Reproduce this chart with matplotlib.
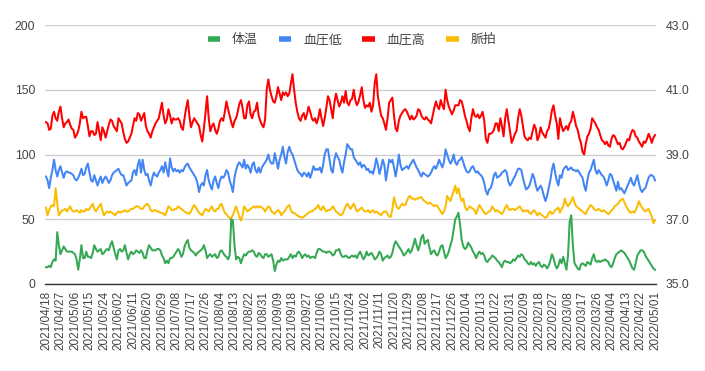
import matplotlib
matplotlib.use('Agg')
import matplotlib.pyplot as plt
import matplotlib.dates as mdates
from matplotlib.lines import Line2D
import pandas as pd

plt.rcParams['font.family'] = ['Liberation Sans', 'Noto Sans CJK JP']

start_date = '2021-04-18'
end_date = '2022-05-01'

series_names = ['体温', '血圧低', '血圧高', '脈拍']

bp_high = [
    125,124,119,120,130,133,128,126,133,137,
    128,121,124,125,127,123,120,119,113,115,
    118,124,133,128,129,129,122,114,118,118,
    115,116,125,118,111,121,118,113,118,123,
    127,126,122,120,118,128,126,124,117,112,
    109,110,113,116,122,128,126,132,
    131,126,129,132,122,118,116,113,118,121,
    124,126,128,134,140,130,124,127,135,130,
    124,128,127,127,128,126,121,119,128,136,
    142,130,121,125,128,126,124,122,115,110,
    120,132,145,128,118,122,124,119,116,120,
    126,128,126,133,141,135,130,125,121,126,
    128,133,139,142,136,128,
    128,138,141,131,128,133,134,140,130,126,
    123,121,127,150,158,150,145,141,140,145,
    152,147,142,148,146,148,145,147,155,162,
    150,140,133,128,126,130,132,127,131,137,
    133,128,126,128,124,128,135,128,122,128,
    136,145,142,135,128,140,147,142,137,140,
    145,140,149,140,138,142,
    143,150,142,138,141,146,152,142,136,138,
    137,140,133,138,155,162,145,137,130,128,
    124,119,128,140,142,144,130,120,118,126,
    130,132,134,135,133,130,127,130,127,128,
    130,135,134,130,128,127,129,127,126,124,
    130,136,141,137,135,142,138,135,150,142,
    137,134,131,134,138,
    138,138,142,141,136,130,126,121,118,128,
    135,130,129,131,128,130,133,126,112,109,
    116,116,117,119,124,124,118,128,122,114,
    128,135,126,118,109,112,116,118,128,135,
    130,122,114,112,111,113,112,118,123,120,
    111,114,121,117,115,113,118,120,126,134,
    138,130,124,112,
    128,122,118,120,122,119,124,126,133,128,
    122,119,113,109,102,100,108,114,116,120,
    128,126,124,121,119,115,111,110,108,110,
    107,106,112,115,114,111,108,109,105,104,
    106,109,112,111,116,119,118,114,113,110,
    108,106,110,109,112,116,113,109,113,115,
]

bp_low = [
    83,80,74,82,88,96,88,83,88,91,
    86,82,86,87,86,86,85,84,81,80,
    82,85,89,84,85,90,93,86,80,79,
    84,80,76,80,83,78,81,83,81,78,
    80,84,86,87,88,89,86,84,84,80,
    76,78,79,80,86,88,84,92,
    96,86,96,88,84,85,80,76,82,86,
    84,83,86,88,91,86,94,88,83,97,
    90,87,89,87,88,86,88,87,90,92,
    93,90,88,86,84,82,78,71,76,78,
    76,84,88,80,76,73,80,83,78,74,
    80,83,82,84,88,86,80,76,71,82,
    88,92,94,92,90,96,
    89,92,90,86,92,94,88,86,90,86,
    90,92,94,96,100,95,93,93,101,95,
    89,96,100,106,98,93,102,106,102,100,
    96,92,88,86,85,83,86,85,83,86,
    82,86,91,88,89,88,90,86,92,100,
    104,104,96,88,86,96,101,98,96,90,
    86,94,100,108,106,104,
    104,98,96,94,92,94,90,92,91,88,
    89,86,87,85,90,97,92,85,90,96,
    92,80,88,96,94,96,90,83,90,100,
    92,88,89,90,91,89,92,94,96,93,
    90,88,85,83,86,85,84,83,84,86,
    89,91,89,92,96,93,90,94,104,100,
    96,93,95,100,94,
    92,95,96,98,94,90,87,86,87,90,
    91,88,86,87,85,84,82,78,72,69,
    73,74,78,84,86,82,83,84,86,87,
    88,86,79,76,78,81,83,86,89,89,
    88,82,77,73,74,76,80,85,82,76,
    72,74,76,73,68,64,68,74,80,88,
    93,86,80,76,
    84,82,88,90,91,88,89,90,88,88,
    87,88,86,84,82,76,72,80,86,88,
    92,96,88,85,88,86,84,83,80,76,
    80,85,84,80,76,72,79,73,74,72,
    70,73,76,79,82,78,76,80,84,78,
    73,71,73,74,78,82,84,84,83,80,
]

pulse = [
    59,53,57,60,61,60,74,62,53,55,
    57,57,58,56,58,60,57,56,56,57,
    56,55,57,56,56,58,57,58,60,62,
    58,56,58,60,62,57,53,55,56,55,
    56,55,54,53,55,56,55,56,56,57,
    56,56,57,58,58,59,60,60,
    59,58,58,60,61,62,60,57,56,57,
    57,56,56,55,55,54,53,56,60,59,
    57,57,58,58,60,59,58,57,56,55,
    55,54,56,59,61,59,57,55,54,53,
    56,58,57,56,58,60,57,56,58,58,
    61,62,58,55,54,52,51,51,53,57,
    60,56,52,49,53,60,
    58,56,57,58,59,60,59,60,59,60,
    59,58,56,58,60,59,56,55,54,56,
    57,56,53,55,56,58,60,61,57,55,
    55,54,53,52,52,51,52,53,54,55,
    56,56,57,58,59,61,58,57,60,58,
    56,57,57,58,60,58,56,55,54,53,
    54,57,60,62,60,58,
    60,62,59,56,57,58,59,57,56,56,
    57,55,56,57,55,56,55,54,53,55,
    56,56,54,52,52,58,67,62,59,58,
    60,62,61,61,64,67,68,66,66,65,
    66,66,67,67,65,64,63,62,63,62,
    61,60,61,60,58,56,54,56,60,68,
    66,64,68,72,76,
    70,74,68,64,66,60,57,58,60,59,
    58,57,54,58,61,59,57,55,54,55,
    56,57,60,58,56,57,56,55,54,56,
    59,61,58,57,58,58,57,58,59,60,
    58,56,57,56,57,55,54,56,57,55,
    53,55,54,53,52,51,52,55,56,54,
    55,57,58,59,
    55,58,60,66,62,60,62,64,67,63,
    60,59,58,57,56,55,54,57,59,61,
    60,58,57,57,58,57,56,57,56,55,
    54,55,57,58,60,61,62,64,65,66,
    63,60,58,56,55,56,55,57,60,64,
    61,59,57,56,57,58,55,52,47,49,
]

body_temp = [
    35.52,35.52,35.56,35.52,35.68,35.76,35.72,36.60,36.20,35.92,
    36.04,36.16,36.08,36.00,36.00,36.00,36.00,35.96,35.92,35.76,
    35.44,35.76,36.20,35.80,35.80,36.00,35.84,35.84,35.80,35.96,
    36.20,36.08,36.00,36.04,36.08,35.92,35.96,36.04,36.08,36.04,
    36.20,36.32,36.12,35.92,35.76,36.04,36.08,36.00,36.04,36.20,
    35.96,35.76,35.92,36.00,35.92,35.96,36.04,36.00,
    35.96,36.04,35.96,35.80,35.80,36.04,36.20,36.12,36.04,36.04,
    36.04,36.08,36.08,36.04,35.88,35.80,35.64,35.72,35.64,35.80,
    35.80,35.84,35.92,36.00,36.08,36.00,35.84,35.92,36.16,36.28,
    36.36,36.12,36.04,36.00,35.96,35.88,35.96,36.00,36.04,36.08,
    36.20,36.04,35.80,35.88,35.92,35.84,35.88,35.92,35.80,35.84,
    36.00,36.04,35.96,35.88,35.84,35.76,35.88,37.00,36.96,36.20,
    35.76,35.84,35.80,35.64,35.80,35.92,
    35.88,35.96,36.00,36.00,36.04,36.00,35.88,35.84,35.96,35.92,
    35.84,35.80,35.92,35.92,35.84,35.88,35.92,35.72,35.40,35.60,
    35.72,35.68,35.80,35.72,35.76,35.76,35.76,35.84,35.92,35.80,
    35.88,35.84,35.96,36.00,35.92,35.80,35.88,35.92,35.84,35.88,
    35.80,35.84,35.84,35.80,35.96,36.08,36.08,36.04,36.00,36.00,
    35.96,36.00,36.00,35.96,35.88,35.92,36.04,36.04,36.08,35.92,
    35.84,35.84,35.88,35.84,35.80,35.84,
    35.88,35.84,35.88,35.80,35.92,36.00,35.88,35.76,35.84,36.00,
    35.88,35.92,35.96,35.88,35.76,35.80,35.88,36.00,35.92,35.72,
    35.80,35.84,35.88,35.80,35.84,35.96,36.20,36.32,36.24,36.16,
    36.08,36.00,35.88,35.92,36.00,36.08,35.96,36.04,36.20,36.40,
    36.20,36.04,36.20,36.44,36.52,36.24,36.32,36.36,36.12,35.92,
    36.00,36.04,35.92,35.88,36.00,36.16,36.20,36.00,35.80,35.88,
    36.00,36.20,36.36,36.68,37.00,
    37.08,37.20,36.84,36.36,36.16,36.08,36.12,36.28,36.20,36.12,
    36.00,35.92,35.80,35.92,36.00,35.92,35.96,35.88,35.72,35.68,
    35.76,35.80,35.88,35.84,35.80,35.72,35.68,35.60,35.52,35.68,
    35.72,35.68,35.68,35.64,35.68,35.76,35.72,35.80,35.88,35.84,
    35.92,35.88,35.76,35.72,35.64,35.60,35.68,35.60,35.64,35.56,
    35.64,35.68,35.56,35.52,35.60,35.56,35.48,35.56,35.72,35.92,
    35.80,35.60,35.48,35.56,
    35.76,35.64,35.84,35.64,35.44,35.88,36.92,37.12,36.20,35.64,
    35.56,35.48,35.44,35.60,35.64,35.60,35.56,35.68,35.64,35.60,
    35.80,35.92,35.72,35.68,35.72,35.68,35.72,35.72,35.76,35.72,
    35.68,35.56,35.52,35.64,35.80,35.92,35.96,36.00,36.04,36.00,
    35.96,35.88,35.80,35.72,35.60,35.48,35.44,35.64,35.88,35.96,
    36.04,36.04,36.00,35.88,35.80,35.72,35.64,35.56,35.48,35.44,
]

dates = pd.date_range(start_date, end_date, freq='D')
for nm, s in [('high', bp_high), ('low', bp_low), ('pulse', pulse), ('temp', body_temp)]:
    assert len(s) == len(dates), (nm, len(s), len(dates))

C_TEMP = '#34a853'
C_LOW = '#4285f4'
C_HIGH = '#ff0000'
C_PULSE = '#fbbc04'
TXT = '#444444'

fig = plt.figure(figsize=(7.05, 3.71), dpi=100)
ax = fig.add_axes([45/705, 1-284/371, 611/705, 259/371])
ax2 = ax.twinx()

lw = 1.45
ax.plot(dates, bp_low, color=C_LOW, lw=lw, zorder=3)
ax.plot(dates, bp_high, color=C_HIGH, lw=lw, zorder=4)
ax.plot(dates, pulse, color=C_PULSE, lw=lw, zorder=5)
ax2.plot(dates, body_temp, color=C_TEMP, lw=lw, zorder=3)

ax.set_ylim(0, 200)
ax.set_yticks([0, 50, 100, 150, 200])
ax2.set_ylim(35, 43)
ax2.set_yticks([35, 37, 39, 41, 43])
ax2.set_yticklabels([f'{v:.1f}' for v in [35, 37, 39, 41, 43]])

x0 = mdates.date2num(dates[0]) - 0.6
x1 = mdates.date2num(dates[-1]) + 0.6
ax.set_xlim(x0, x1)
tick_dates = dates[::9]
ax.set_xticks(tick_dates)
ax.set_xticklabels([d.strftime('%Y/%m/%d') for d in tick_dates], rotation=90)

ax.grid(axis='y', color='#cccccc', lw=0.9, zorder=0)
ax.set_axisbelow(True)
for sp in ['top', 'left', 'right']:
    ax.spines[sp].set_visible(False)
    ax2.spines[sp].set_visible(False)
ax2.spines['bottom'].set_visible(False)
ax.spines['bottom'].set_color('#333333')
ax.spines['bottom'].set_linewidth(1.0)

ax.tick_params(axis='x', length=0, pad=5, labelsize=8.5, labelcolor=TXT)
ax.tick_params(axis='y', length=0, pad=7, labelsize=8.8, labelcolor=TXT)
ax2.tick_params(axis='y', length=0, pad=7, labelsize=8.8, labelcolor=TXT)

handles = [Line2D([], [], color=c, lw=4.0, solid_capstyle='butt') for c in [C_TEMP, C_LOW, C_HIGH, C_PULSE]]
fig.legend(handles, series_names, loc='center', bbox_to_anchor=(352/705, 1-40/371), ncol=4,
           frameon=False, fontsize=9.3, handlelength=1.0, handletextpad=0.9, columnspacing=1.6,
           labelcolor=TXT)

fig.savefig('out.png', dpi=100)
